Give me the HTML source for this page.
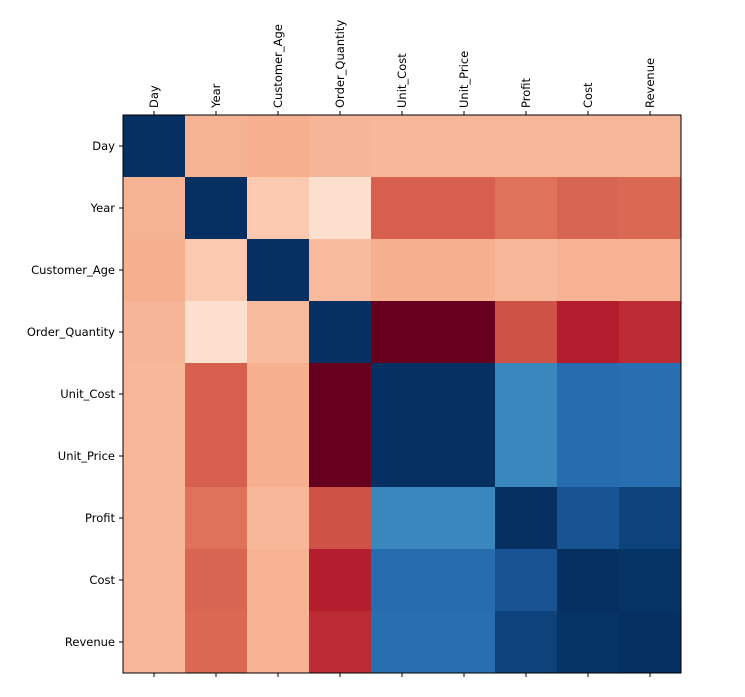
<!DOCTYPE html>
<html><head><meta charset="utf-8">
<style>
html,body{margin:0;padding:0;background:#fff;}
svg{display:block;font-family:"DejaVu Sans","Liberation Sans",sans-serif;}
</style></head>
<body>
<svg id="chart" width="745" height="697" viewBox="0 0 745 697" xmlns="http://www.w3.org/2000/svg">
<g id="cells"></g>
<g id="axes"></g>
</svg>
<script>
const labels = ["Day","Year","Customer_Age","Order_Quantity","Unit_Cost","Unit_Price","Profit","Cost","Revenue"];
const rowDay = [1,-0.012,-0.02,-0.005,0,0,0,0,0];
const rowYear = [-0.012,1,0.05,0.12,-0.2,-0.2,-0.16,-0.19,-0.18];
const rowAge = [-0.02,0.05,1,0.01,-0.02,-0.02,0.0,-0.015,-0.015];
const rowOQ = [-0.005,0.12,0.01,1,-0.5,-0.5,-0.23,-0.34,-0.31];
const rowUC = [0,-0.2,-0.02,-0.5,1,1,0.74,0.83,0.82];
const rowUP = [0,-0.2,-0.02,-0.5,1,1,0.74,0.83,0.82];
const rowProfit = [0,-0.16,0,-0.23,0.74,0.74,1,0.9,0.95];
const rowCost = [0,-0.19,-0.015,-0.34,0.83,0.83,0.9,1,0.99];
const rowRevenue = [0,-0.18,-0.015,-0.31,0.82,0.82,0.95,0.99,1];
const matrix = [rowDay,rowYear,rowAge,rowOQ,rowUC,rowUP,rowProfit,rowCost,rowRevenue];

const NS="http://www.w3.org/2000/svg";
const x0=123, y0=115, size=558, n=labels.length, cw=size/n;
const xPos=i=>x0+i*cw, yPos=i=>y0+i*cw;
const stops=["#67001f","#b2182b","#d6604d","#f4a582","#fddbc7","#f7f7f7","#d1e5f0","#92c5de","#4393c3","#2166ac","#053061"];
function hex(h){return [1,3,5].map(k=>parseInt(h.substr(k,2),16));}
function cmap(t){t=Math.max(0,Math.min(1,t));const p=t*10,i=Math.min(9,Math.floor(p)),f=p-i;const a=hex(stops[i]),b=hex(stops[i+1]);return "rgb("+a.map((v,k)=>Math.round(v+(b[k]-v)*f)).join(",")+")";}
let vmin=Infinity,vmax=-Infinity;matrix.forEach(r=>r.forEach(v=>{vmin=Math.min(vmin,v);vmax=Math.max(vmax,v);}));
const cells=document.getElementById("cells"), axes=document.getElementById("axes");
matrix.forEach((row,r)=>row.forEach((v,c)=>{
  const el=document.createElementNS(NS,"rect");
  el.setAttribute("x",xPos(c));el.setAttribute("y",yPos(r));
  el.setAttribute("width",cw+0.5);el.setAttribute("height",cw+0.5);
  el.setAttribute("fill",cmap((v-vmin)/(vmax-vmin)));
  
  
  cells.appendChild(el);
}));
const frame=document.createElementNS(NS,"rect");
frame.setAttribute("x",x0);frame.setAttribute("y",y0);frame.setAttribute("width",size);frame.setAttribute("height",size);
frame.setAttribute("fill","none");frame.setAttribute("stroke","#000");frame.setAttribute("stroke-width","1");


axes.appendChild(frame);
function line(x1,y1,x2,y2){const l=document.createElementNS(NS,"line");l.setAttribute("x1",x1);l.setAttribute("y1",y1);l.setAttribute("x2",x2);l.setAttribute("y2",y2);l.setAttribute("stroke","#000");l.setAttribute("stroke-width","1");


axes.appendChild(l);}
labels.forEach((lab,i)=>{
  const cx=xPos(i)+cw/2, cy=yPos(i)+cw/2;
  line(cx,y0,cx,y0-4); line(cx,y0+size,cx,y0+size+4); line(x0,cy,x0-4,cy);
  const tx=document.createElementNS(NS,"text");
  tx.setAttribute("transform","translate("+(cx+4)+","+(y0-7)+") rotate(-90)");
  tx.setAttribute("font-size","11.5");tx.textContent=lab;
  
  
  axes.appendChild(tx);
  const ty=document.createElementNS(NS,"text");
  ty.setAttribute("x",x0-8);ty.setAttribute("y",cy+4);ty.setAttribute("text-anchor","end");
  ty.setAttribute("font-size","11.5");ty.textContent=lab;
  
  
  axes.appendChild(ty);
});
</script>
</body></html>
